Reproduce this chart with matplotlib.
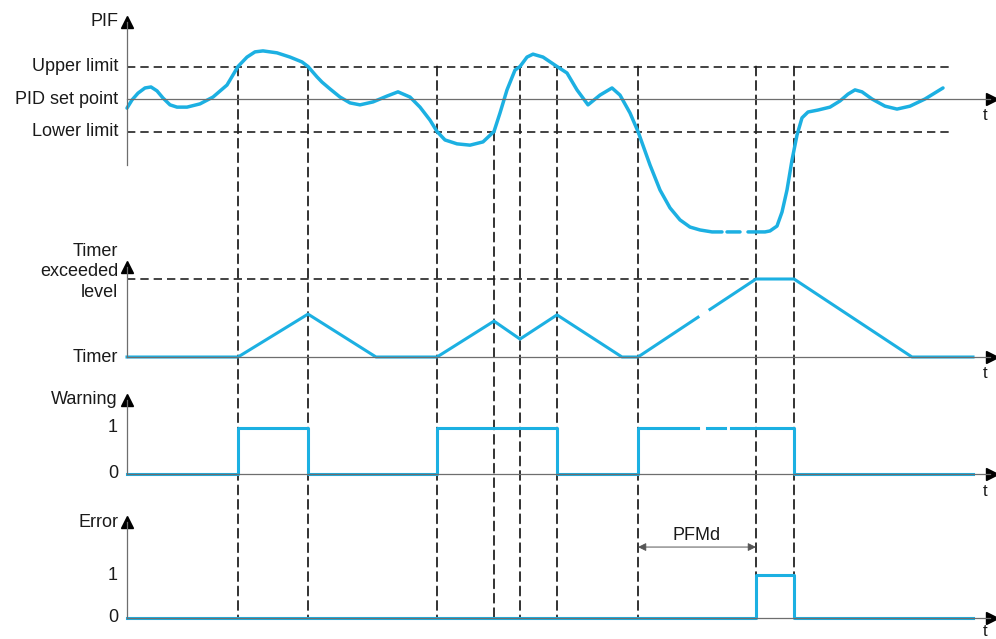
import matplotlib
matplotlib.use('Agg')
import matplotlib.pyplot as plt
from matplotlib.patches import ConnectionPatch
import numpy as np

plt.rcParams['font.family'] = ['Liberation Sans', 'DejaVu Sans']

# time of each switching event (vertical dashed markers) and the PIF level where the marker starts
event_t = [11.1, 18.1, 31.0, 36.7, 39.3, 43.0, 51.1, 62.9, 66.7]
event_from = [1, 1, 1, -1, 1, 1, 1, 1, 1]

# PIF curve (set point = 0, upper limit = 1, lower limit = -1), nan = break in the trace
pif_t = [0, 0.5, 1.1, 1.8, 2.4, 3.0, 3.6, 4.3, 5.0, 6.0, 7.3, 8.6, 10.0, 11.1, 12.0, 12.8,
         13.6, 15.0, 16.3, 17.5, 18.1, 19.0, 19.5, 20.3, 21.3, 22.3, 23.3, 24.6, 26.0, 27.1,
         28.3, 29.3, 30.3, 31.0, 31.8, 33.0, 34.3, 35.6, 36.7, 37.3, 38.0, 38.8, 39.3, 40.0,
         40.6, 41.6, 43.0, 44.0, 45.0, 46.1, 47.3, 48.5, 49.3, 50.3, 51.1, 52.3, 53.3, 54.3,
         55.3, 56.3, 57.3, 58.5, 59.5, 59.5, 60.0, 61.3, 61.3, 62.1, 63.8, 64.3, 65.0, 65.5,
         66.0, 66.5, 67.0, 67.5, 68.1, 69.1, 70.3, 71.3, 72.1, 72.8, 73.5, 74.5, 75.8, 77.0,
         78.3, 79.8, 81.6]
pif_v = [-0.28, -0.03, 0.18, 0.34, 0.37, 0.25, 0.03, -0.18, -0.25, -0.25, -0.15, 0.06, 0.43,
         1.0, 1.29, 1.45, 1.48, 1.42, 1.29, 1.14, 1.0, 0.68, 0.52, 0.31, 0.06, -0.12, -0.18,
         -0.09, 0.09, 0.22, 0.06, -0.25, -0.65, -1.0, -1.26, -1.38, -1.42, -1.32, -1.0, -0.43,
         0.28, 0.89, 1.0, 1.29, 1.38, 1.29, 1.0, 0.8, 0.28, -0.18, 0.12, 0.34, 0.12, -0.43,
         -1.0, -2.03, -2.8, -3.35, -3.72, -3.94, -4.03, -4.09, -4.09, np.nan, -4.09, -4.09,
         np.nan, -4.09, -4.09, -4.06, -3.91, -3.48, -2.8, -1.88, -1.11, -0.58, -0.4, -0.34,
         -0.25, -0.06, 0.15, 0.28, 0.22, 0.0, -0.22, -0.31, -0.22, 0.0, 0.34]

# timer (0 = baseline, 1 = exceeded level)
timer_t = [0, 11.1, 18.1, 24.9, 31.0, 36.7, 39.3, 43.0, 49.5, 51.1, 57.1, 57.1, 58.3, 62.9, 66.7, 78.5, 84.6]
timer_v = [0, 0, 0.55, 0, 0, 0.46, 0.23, 0.54, 0, 0, 0.51, np.nan, 0.61, 1, 1, 0, 0]

# warning / error logic signals (step-post)
warn_t = [0, 11.1, 18.1, 31.0, 43.0, 51.1, 57.1, 58.0, 59.8, 60.4, 66.7, 84.6]
warn_v = [0, 1, 0, 1, 0, 1, np.nan, 1, np.nan, 1, 0, 0]
err_t = [0, 62.9, 66.7, 84.6]
err_v = [0, 1, 0, 0]

W, H = 996, 639
BLUE = '#1cb0e2'
AXC = '#6e6e6e'
TXT = '#1a1a1a'
FS = 13

fig = plt.figure(figsize=(W / 100, H / 100), dpi=100)


def panel(base_px, scale, top_px, bot_px, spine_lo, arrow_y, t_off=-17):
    ax = fig.add_axes([127 / W, 1 - bot_px / H, 870 / W, (bot_px - top_px) / H])
    ax.set_xlim(0, 87)
    ax.set_ylim((base_px - bot_px) / scale, (base_px - top_px) / scale)
    ax.patch.set_visible(False)
    for s in ['top', 'right']:
        ax.spines[s].set_visible(False)
    ax.spines['left'].set_bounds(spine_lo, arrow_y)
    ax.spines['bottom'].set_position(('data', 0))
    ax.spines['bottom'].set_bounds(0, 86.3)
    for s in ['left', 'bottom']:
        ax.spines[s].set_color(AXC)
        ax.spines[s].set_linewidth(0.9)
    ax.set_xticks([])
    ax.set_yticks([])
    ax.plot(0, arrow_y, marker='^', ms=8, color='black', clip_on=False)
    ax.plot(86.5, 0, marker='>', ms=8, color='black', clip_on=False)
    ax.annotate('t', xy=(85.8, 0), xytext=(0, t_off), textcoords='offset pixels',
                ha='center', va='center', fontsize=FS - 1, color=TXT, annotation_clip=False)
    return ax


def left_label(ax, text, y, **kw):
    ax.annotate(text, xy=(0, y), xytext=(-9, 0), textcoords='offset pixels',
                ha='right', va='center', fontsize=FS, color=TXT, annotation_clip=False, **kw)


dash = (0, (5, 3))

# PIF panel
ax_pif = panel(99, 32.5, 8, 245, -2.03, 2.37)
ax_pif.plot([0, 82.3], [1, 1], color='#222222', lw=1.2, ls=dash)
ax_pif.plot([0, 82.3], [-1, -1], color='#222222', lw=1.2, ls=dash)
ax_pif.plot(pif_t, pif_v, color=BLUE, lw=2.5, solid_capstyle='round',
            solid_joinstyle='round', clip_on=False)
left_label(ax_pif, 'PIF', 2.37)
left_label(ax_pif, 'Upper limit', 1)
left_label(ax_pif, 'PID set point', 0)
left_label(ax_pif, 'Lower limit', -1)

# Timer panel
ax_tim = panel(357, 78, 240, 380, 0, 1.15)
ax_tim.plot([0, 62.9], [1, 1], color='#222222', lw=1.2, ls=dash)
ax_tim.plot(timer_t, timer_v, color=BLUE, lw=2.2, clip_on=False)
left_label(ax_tim, 'Timer\nexceeded\nlevel', 1.09, linespacing=1.3)
left_label(ax_tim, 'Timer', 0)

# Warning panel
ax_w = panel(474, 46, 385, 495, 0, 1.61)
ax_w.plot(warn_t, warn_v, color=BLUE, lw=2.2, drawstyle='steps-post', clip_on=False)
left_label(ax_w, 'Warning', 1.61)
left_label(ax_w, '1', 1)
left_label(ax_w, '0', 0)

# Error panel
ax_e = panel(618, 43, 505, 639, 0, 2.23, t_off=-13)
ax_e.plot(err_t, err_v, color=BLUE, lw=2.2, drawstyle='steps-post', clip_on=False)
left_label(ax_e, 'Error', 2.23)
left_label(ax_e, '1', 1)
left_label(ax_e, '0', 0)
ax_e.annotate('', xy=(event_t[6], 1.65), xytext=(event_t[7], 1.65),
              arrowprops=dict(arrowstyle='<|-|>', color='#555555', lw=0.7,
                              shrinkA=0, shrinkB=0, mutation_scale=12))
ax_e.text((event_t[6] + event_t[7]) / 2, 1.93, 'PFMd', ha='center', va='center',
          fontsize=FS, color=TXT)

# vertical dashed event markers running through all panels
for t, y0 in zip(event_t, event_from):
    con = ConnectionPatch(xyA=(t, y0), coordsA=ax_pif.transData,
                          xyB=(t, 0), coordsB=ax_e.transData,
                          color='#222222', lw=1.3, ls=dash, zorder=-1)
    fig.add_artist(con)

fig.savefig('out.png', dpi=100, facecolor='white')
